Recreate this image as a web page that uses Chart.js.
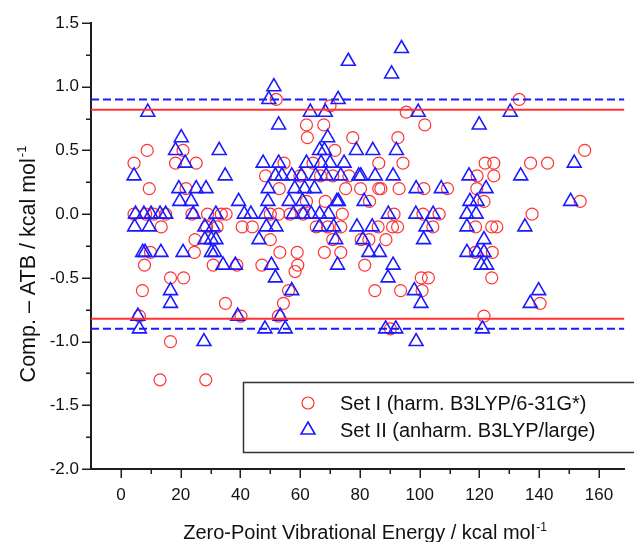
<!DOCTYPE html>
<html><head><meta charset="utf-8">
<script src="https://cdn.jsdelivr.net/npm/chart.js@4/dist/chart.umd.min.js"></script>
<style>html,body{margin:0;padding:0;background:#fff;overflow:hidden}</style>
</head><body>
<canvas id="c" width="634" height="542"></canvas>
<script>
// ---- data ----
const setILabel = 'Set I (harm. B3LYP/6-31G*)';
const setIILabel = 'Set II (anharm. B3LYP/large)';

const setI_x = [4.4,8.8,9.5,4.4,8.3,11.0,15.0,13.5,9.9,7.9,7.2,6.2,16.6,21.0,16.6,13.1,28.4,18.3,25.2,20.8,21.8,23.8,29.0,33.6,35.2,28.7,32.2,24.8,24.6,30.9,35.0,40.2,40.6,44.0,38.8,
  47.2,48.4,50.0,52.8,56.6,61.0,74.1,50.0,53.2,59.0,59.2,58.3,56.1,54.4,52.7,52.0,70.0,62.1,67.9,62.4,77.6,71.6,54.6,64.3,59.9,66.8,70.9,76.3,53.0,75.2,80.2,62.1,68.4,65.4,69.2,73.6,70.9,80.4,68.1,73.6,
  83.2,81.6,85.0,93.6,100.8,86.3,94.4,95.5,101.7,92.7,86.3,87.0,93.1,101.4,109.3,119.1,91.4,101.1,106.5,86.1,90.9,92.6,104.4,118.7,124.1,125.8,83.0,88.7,118.6,124.3,100.5,102.9,124.1,121.5,90.2,140.3,
  121.9,124.8,137.1,142.8,155.2,133.3,119.2,124.8,121.5,153.7,137.6];
const setI_y = [0.4,0.5,0.2,0.0,0.0,0.0,0.0,-0.1,-0.3,-0.4,-0.6,-0.8,-0.5,-0.5,-1.0,-1.3,-1.3,0.4,0.4,0.5,0.2,0.0,0.0,0.0,0.0,-0.1,-0.1,-0.2,-0.3,-0.4,-0.7,-0.8,-0.1,-0.1,-0.4,
  -0.4,0.3,0.0,0.0,0.0,0.0,0.0,-0.2,-0.3,-0.3,-0.4,-0.45,-0.6,-0.7,-0.8,0.9,0.85,0.7,0.7,0.6,0.6,0.5,0.4,0.4,0.3,0.3,0.3,0.3,0.2,0.2,0.2,0.1,0.1,-0.1,-0.1,-0.1,-0.2,-0.2,-0.3,-0.3,
  0.1,-0.4,-0.6,-0.6,-0.6,0.4,0.4,0.8,0.7,0.6,0.2,0.2,0.2,0.2,0.2,0.2,0.0,0.0,0.0,-0.1,-0.1,-0.1,-0.1,-0.1,-0.1,-0.1,-0.2,-0.2,-0.3,-0.3,-0.5,-0.5,-0.5,-0.8,-0.9,-0.7,
  0.4,0.4,0.4,0.4,0.5,0.9,0.3,0.3,0.1,0.1,0.0];

const setII_x = [9.0,4.4,4.9,7.7,10.1,13.1,15.0,4.6,9.5,7.3,8.1,13.4,20.8,5.7,6.2,16.6,16.6,27.8,20.2,18.3,32.9,21.5,34.9,19.4,25.2,28.5,19.7,23.5,24.2,31.8,28.1,30.9,28.1,30.3,31.8,30.3,31.4,34.2,38.3,39.1,39.4,41.3,43.5,46.2,
  51.2,49.5,72.7,76.1,63.4,68.4,52.8,69.2,66.5,68.1,78.8,47.6,52.8,62.1,67.0,70.0,74.7,51.7,53.9,57.2,60.4,65.2,68.7,73.6,79.6,49.3,58.2,61.5,64.8,49.2,56.3,60.8,72.3,72.8,48.4,57.7,61.0,63.7,66.5,69.5,48.7,51.9,66.5,71.2,79.0,71.9,50.4,72.5,51.7,57.2,53.3,48.2,55.0,
  93.9,90.6,99.5,119.9,130.3,84.3,92.2,80.3,85.1,91.1,116.5,133.8,151.7,98.8,107.2,122.2,81.4,116.8,119.2,150.5,89.5,98.7,104.5,115.8,118.9,84.1,102.1,115.8,135.2,81.0,101.3,121.5,83.0,86.5,115.8,119.2,121.5,91.1,120.6,122.4,89.4,98.2,139.8,100.4,137.0,88.6,92.0,121.0,98.8];
const setII_y = [0.8,0.3,0.0,0.0,0.0,0.0,0.0,-0.1,-0.1,-0.3,-0.3,-0.3,-0.3,-0.8,-0.9,-0.6,-0.7,-1.0,0.6,0.5,0.5,0.4,0.3,0.2,0.2,0.2,0.1,0.1,0.0,0.0,-0.1,-0.1,-0.2,-0.2,-0.2,-0.3,-0.3,-0.4,-0.4,-0.8,0.1,0.0,0.0,-0.2,
  1.0,0.9,0.9,1.2,0.8,0.8,0.7,0.6,0.5,0.5,0.5,0.4,0.4,0.4,0.4,0.4,0.4,0.3,0.3,0.3,0.3,0.3,0.3,0.3,0.3,0.2,0.2,0.2,0.2,0.1,0.1,0.1,0.1,0.1,0.0,0.0,0.0,0.0,0.0,0.0,-0.1,-0.1,-0.1,-0.1,-0.1,-0.2,-0.4,-0.4,-0.5,-0.6,-0.8,-0.9,-0.9,
  1.3,1.1,0.8,0.7,0.8,0.5,0.5,0.3,0.3,0.3,0.3,0.3,0.4,0.2,0.2,0.2,0.1,0.1,0.1,0.1,0.0,0.0,0.0,0.0,0.0,-0.1,-0.1,-0.1,-0.1,-0.2,-0.2,-0.2,-0.3,-0.3,-0.3,-0.3,-0.3,-0.4,-0.4,-0.4,-0.5,-0.6,-0.6,-0.7,-0.7,-0.9,-0.9,-0.9,-1.0];

const redLimits = [0.82, -0.82];
const blueLimits = [0.9, -0.9];
const xRange = [-10, 168.5];
const yRange = [-2.0, 1.5];
const xMajorTicks = [0,20,40,60,80,100,120,140,160];
const xMinorTicks = [10,30,50,70,90,110,130,150];
const yMajorTicks = [-2.0,-1.5,-1.0,-0.5,0.0,0.5,1.0,1.5];
const yMinorTicks = [-1.75,-1.25,-0.75,-0.25,0.25,0.75,1.25];
const xTitle = 'Zero-Point Vibrational Energy / kcal mol';
const yTitle = 'Comp. \u2013 ATB / kcal mol';
const unitSup = '-1';

// ---- styles ----
const FONT = 'Arial, "Liberation Sans", sans-serif';
const RED = '#ff3333', BLUE = '#1a1aff', AXIS = '#1e1e1e';

const pts = (xs, ys) => xs.map((x, i) => ({x, y: ys[i]}));
const hline = v => [{x: xRange[0], y: v}, {x: xRange[1], y: v}];

const lineDs = [];
redLimits.forEach(v => lineDs.push({type:'line', data: hline(v), borderColor: RED, borderWidth: 2, pointRadius: 0, order: 0}));
blueLimits.forEach(v => lineDs.push({type:'line', data: hline(v), borderColor: BLUE, borderWidth: 2, borderDash: [8,4], pointRadius: 0, order: 0}));

function drawSym(ctx, kind, x, y) {
  ctx.beginPath();
  if (kind === 'circle') {
    ctx.strokeStyle = RED; ctx.lineWidth = 1.2;
    ctx.arc(x, y, 6, 0, Math.PI * 2);
  } else {
    ctx.strokeStyle = BLUE; ctx.lineWidth = 1.6;
    const r = 8;
    ctx.moveTo(x, y - r);
    ctx.lineTo(x + r * Math.sin(2*Math.PI/3), y - r * Math.cos(2*Math.PI/3));
    ctx.lineTo(x + r * Math.sin(4*Math.PI/3), y - r * Math.cos(4*Math.PI/3));
    ctx.closePath();
  }
  ctx.stroke();
}

function drawSupText(ctx, main, sup, size) {
  ctx.font = size + 'px ' + FONT;
  ctx.fillText(main, 0, 0);
  const w = ctx.measureText(main).width;
  ctx.font = Math.round(size * 0.62) + 'px ' + FONT;
  ctx.fillText(sup, w + 1, -size * 0.42);
}
function supWidth(ctx, main, sup, size) {
  ctx.font = size + 'px ' + FONT;
  const w = ctx.measureText(main).width;
  ctx.font = Math.round(size * 0.62) + 'px ' + FONT;
  return w + 1 + ctx.measureText(sup).width;
}

const decor = {
  id: 'decor',
  afterDraw(chart) {
    const ctx = chart.ctx, xs = chart.scales.x, ys = chart.scales.y, ca = chart.chartArea;
    ctx.save();
    ctx.strokeStyle = AXIS; ctx.lineWidth = 1.5;
    const seg = (x1, y1, x2, y2) => { ctx.beginPath(); ctx.moveTo(x1, y1); ctx.lineTo(x2, y2); ctx.stroke(); };
    xMajorTicks.forEach(v => { const p = Math.round(xs.getPixelForValue(v)) + 0.25; seg(p, ca.bottom, p, ca.bottom + 9); });
    xMinorTicks.forEach(v => { const p = Math.round(xs.getPixelForValue(v)) + 0.25; seg(p, ca.bottom, p, ca.bottom + 5); });
    yMajorTicks.forEach(v => { const p = Math.round(ys.getPixelForValue(v)) + 0.25; seg(ca.left, p, ca.left - 9, p); });
    yMinorTicks.forEach(v => { const p = Math.round(ys.getPixelForValue(v)) + 0.25; seg(ca.left, p, ca.left - 5, p); });

    ctx.fillStyle = '#111';
    ctx.textBaseline = 'alphabetic'; ctx.textAlign = 'left';
    const tw = supWidth(ctx, xTitle, unitSup, 20);
    ctx.save(); ctx.translate(365 - tw / 2, 539); drawSupText(ctx, xTitle, unitSup, 20); ctx.restore();
    const th = supWidth(ctx, yTitle, unitSup, 21.5);
    ctx.save(); ctx.translate(35, 264 + th / 2); ctx.rotate(-Math.PI / 2); drawSupText(ctx, yTitle, unitSup, 21.5); ctx.restore();

    // legend (box runs past the right edge, as in the source)
    ctx.fillStyle = '#fff';
    ctx.fillRect(243.5, 382.5, 700, 70);
    ctx.strokeStyle = '#333'; ctx.lineWidth = 1.5;
    ctx.beginPath();
    ctx.moveTo(1000, 382.5); ctx.lineTo(243.5, 382.5); ctx.lineTo(243.5, 452.5); ctx.lineTo(1000, 452.5);
    ctx.stroke();
    drawSym(ctx, 'circle', 308, 403);
    drawSym(ctx, 'triangle', 308, 430);
    ctx.fillStyle = '#111';
    ctx.font = '20px ' + FONT;
    ctx.fillText(setILabel, 340, 410);
    ctx.fillText(setIILabel, 340, 437);
    ctx.restore();
  }
};

new Chart(document.getElementById('c'), {
  data: {
    datasets: [
      {type:'scatter', label: setIILabel, data: pts(setII_x, setII_y), pointStyle:'triangle', pointRadius: 8, pointBorderWidth: 1.6,
       pointBorderColor: BLUE, pointBackgroundColor: 'rgba(0,0,0,0)', order: 1},
      {type:'scatter', label: setILabel, data: pts(setI_x, setI_y), pointStyle:'circle', pointRadius: 6, pointBorderWidth: 1.2,
       pointBorderColor: RED, pointBackgroundColor: 'rgba(0,0,0,0)', order: 2},
      ...lineDs
    ]
  },
  options: {
    responsive: false, animation: false, devicePixelRatio: 1,
    layout: {padding: {top: 23, right: 0, left: 0, bottom: 0}},
    plugins: {legend: {display: false}, tooltip: {enabled: false}},
    elements: {point: {hoverRadius: 6}},
    scales: {
      x: {type: 'linear', position: 'bottom', min: xRange[0], max: xRange[1],
        afterFit(s) { s.height = 73; },
        afterBuildTicks(s) { s.ticks = xMajorTicks.map(v => ({value: v})); },
        grid: {display: false, drawTicks: false},
        border: {display: true, color: AXIS, width: 2},
        ticks: {padding: 16, color: '#111', font: {family: FONT, size: 17}, maxRotation: 0, autoSkip: false, callback: v => String(v)}
      },
      y: {type: 'linear', position: 'left', min: yRange[0], max: yRange[1],
        afterFit(s) { s.width = 91; },
        afterBuildTicks(s) { s.ticks = yMajorTicks.map(v => ({value: v})); },
        grid: {display: false, drawTicks: false},
        border: {display: true, color: AXIS, width: 2},
        ticks: {padding: 12, color: '#111', font: {family: FONT, size: 17}, autoSkip: false, callback: v => Number(v).toFixed(1)}
      }
    }
  },
  plugins: [decor]
});
</script>
</body></html>
